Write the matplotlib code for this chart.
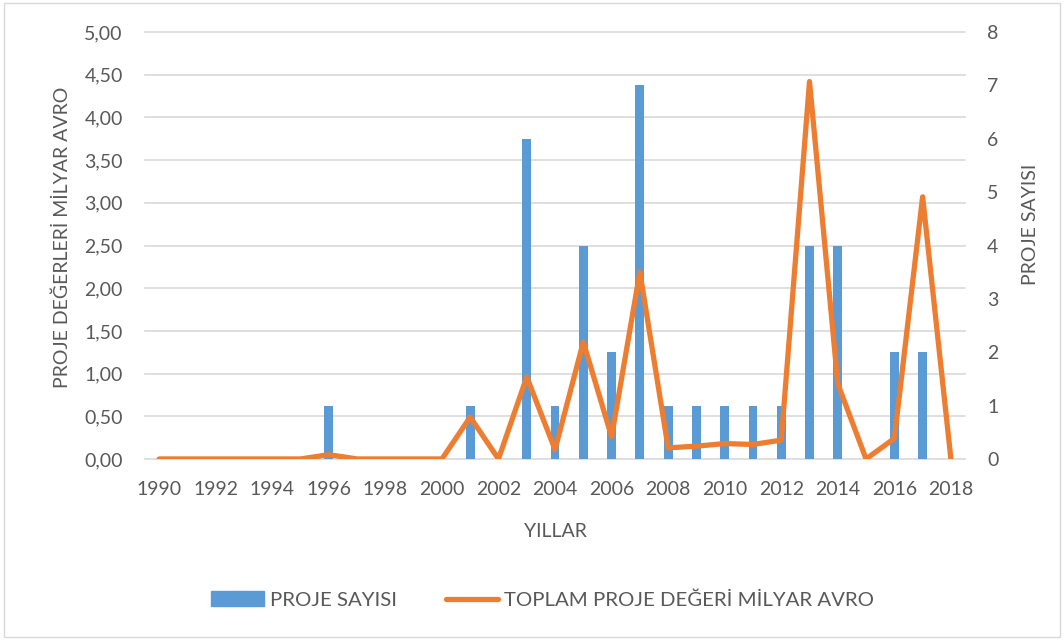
import numpy as np
import matplotlib.pyplot as plt
from matplotlib.patches import Rectangle

plt.rcParams['font.family'] = ['Lato', 'DejaVu Sans']

years = list(range(1990, 2019))
# proje sayisi (sağ eksen)
proje_sayisi = [0, 0, 0, 0, 0, 0, 1, 0, 0, 0, 0, 1, 0, 6, 1, 4, 2, 7,
                1, 1, 1, 1, 1, 4, 4, 0, 2, 2, 0]
# toplam proje değeri, milyar avro (sol eksen)
toplam_deger = [0, 0, 0, 0, 0, 0, 0.05, 0, 0, 0, 0, 0.49, 0, 0.96, 0.11,
                1.37, 0.26, 2.19, 0.13, 0.15, 0.18, 0.17, 0.22, 4.42, 0.88,
                0, 0.24, 3.07, 0]

grey = '#595959'
blue = '#5b9bd5'
orange = '#ed7d31'

fig = plt.figure(figsize=(10.64, 6.41), dpi=100)
fig.add_artist(Rectangle((0.004, 0.006), 0.992, 0.99, transform=fig.transFigure,
                         fill=False, edgecolor='#d9d9d9', linewidth=1))
ax = fig.add_axes([0.1363, 0.284, 0.7707, 0.666])
ax2 = ax.twinx()

x = np.arange(len(years))

# bars on the right axis, gridlines follow the left axis ticks
ax2.bar(x, proje_sayisi, width=0.31, color=blue, zorder=2)
ax2.set_ylim(0, 8)
ax2.set_yticks(range(0, 9))
ax2.yaxis.remove_overlapping_locs = False
ax2.set_yticks(np.arange(0, 8.01, 0.8), minor=True)
ax2.grid(axis='y', which='minor', color='#d9d9d9', linewidth=1.2, zorder=0,
         clip_on=False)
ax2.set_axisbelow(True)
ax2.tick_params(axis='y', which='both', length=0, pad=16, labelsize=14, labelcolor=grey)
ax2.set_ylabel('PROJE SAYISI', color=grey, fontsize=14)
ax2.yaxis.set_label_coords(1.07, 0.55)

# line on the left axis, drawn above the bars
ax.set_zorder(ax2.get_zorder() + 1)
ax.patch.set_visible(False)
ax.plot(x, toplam_deger, color=orange, linewidth=3.8, solid_joinstyle='round',
        solid_capstyle='round')
ax.set_ylim(0, 5)
ax.set_yticks(np.arange(0, 5.01, 0.5))
ax.set_yticklabels([f'{v:.2f}'.replace('.', ',') for v in np.arange(0, 5.01, 0.5)])
ax.set_xlim(-0.5, len(years) - 0.5)
ax.set_xticks(x[::2])
ax.set_xticklabels([str(y) for y in years[::2]])
ax.tick_params(axis='both', length=0, labelsize=14, labelcolor=grey)
ax.tick_params(axis='y', pad=16)
ax.tick_params(axis='x', pad=16)
ax.set_ylabel('PROJE DEĞERLERİ MİLYAR AVRO', color=grey, fontsize=14)
ax.yaxis.set_label_coords(-0.09, 0.52)
ax.set_xlabel('YILLAR', color=grey, fontsize=14, labelpad=18)

for a in (ax, ax2):
    for s in a.spines.values():
        s.set_visible(False)

h1 = plt.Rectangle((0, 0), 1, 1, color=blue)
h2 = plt.Line2D([0], [0], color=orange, linewidth=3.8, solid_capstyle='round')
fig.legend([h1, h2], ['PROJE SAYISI', 'TOPLAM PROJE DEĞERİ MİLYAR AVRO'],
           loc='center', bbox_to_anchor=(0.51, 0.064), ncol=2, frameon=False,
           fontsize=14.7, labelcolor=grey, columnspacing=2.4, handlelength=2.55,
           handletextpad=0.3)

fig.savefig('out.png', dpi=100)
